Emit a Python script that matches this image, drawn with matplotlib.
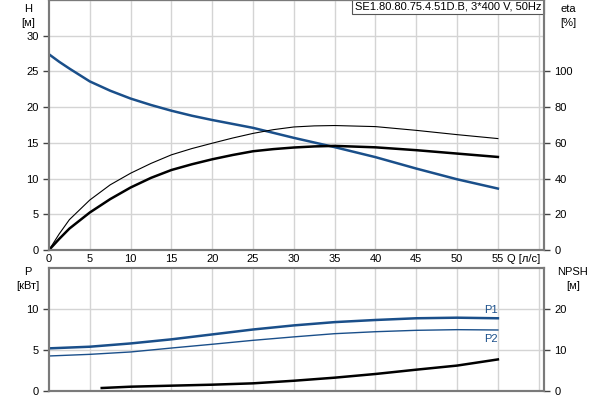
import numpy as np
import matplotlib
matplotlib.use("Agg")
import matplotlib.pyplot as plt

plt.rcParams["font.family"] = ["Liberation Sans", "DejaVu Sans"]
plt.rcParams["font.size"] = 8

# data
q = [0, 1.25, 2.5, 5, 7.5, 10, 12.5, 15, 17.5, 20, 22.5, 25, 27.5, 30, 32.5,
     35, 40, 45, 50, 55]
head = [27.4, 26.35, 25.4, 23.6, 22.3, 21.2, 20.3, 19.5, 18.8, 18.2, 17.65, 17.1,
        16.4, 15.7, 15.05, 14.4, 13.0, 11.4, 9.9, 8.6]
eta_thin = [0, 9, 17, 28, 36.5, 43, 48.5, 53.3, 56.8, 59.8, 62.7, 65.3, 67.4,
            68.9, 69.5, 69.7, 69.1, 67.0, 64.6, 62.4]
eta_thick = [0, 6.2, 12, 21, 28.5, 35, 40.4, 44.8, 48.0, 50.8, 53.2, 55.3, 56.5,
             57.4, 58.0, 58.3, 57.5, 55.9, 54.0, 52.1]

q_p = [0, 5, 10, 15, 20, 25, 30, 35, 40, 45, 50, 55]
p1 = [5.2, 5.4, 5.8, 6.3, 6.9, 7.5, 8.0, 8.4, 8.66, 8.87, 8.94, 8.87]
p2 = [4.27, 4.47, 4.76, 5.24, 5.7, 6.18, 6.6, 6.99, 7.23, 7.4, 7.48, 7.44]

q_npsh = [6.46, 10, 15, 20, 25, 30, 35, 40, 45, 50, 55]
npsh = [0.73, 1.05, 1.3, 1.54, 1.87, 2.5, 3.25, 4.15, 5.2, 6.2, 7.7]

blue = "#1a4f8a"
grid_c = "#d4d4d4"
spine_c = "#7a7a7a"

fig = plt.figure(figsize=(6, 4), dpi=100)
ax = fig.add_axes([49 / 600, 0.375, 495 / 600, 0.625])
ax2 = ax.twinx()
bx = fig.add_axes([49 / 600, 9 / 400, 495 / 600, 123 / 400])
bx2 = bx.twinx()

xmax = 60.65
for a in (ax, ax2, bx, bx2):
    a.set_xlim(0, xmax)
    for s in a.spines.values():
        s.set_color(spine_c)
        s.set_linewidth(1.5)
    a.tick_params(colors="black", length=4, width=1, color="#444444", labelsize=8)

ax.set_ylim(0, 35)
ax2.set_ylim(0, 140)
bx.set_ylim(0, 15)
bx2.set_ylim(0, 30)

ax.set_xticks(np.arange(0, 61, 5))
ax.set_xticklabels([str(v) for v in range(0, 56, 5)] + [""])
ax.set_yticks([0, 5, 10, 15, 20, 25, 30])
ax2.set_yticks([0, 20, 40, 60, 80, 100])
ax.tick_params(axis="x", length=0, pad=3)
for v in range(0, 36, 5):
    ax.axhline(v, color=grid_c, lw=1, zorder=0)
for v in range(5, 61, 5):
    ax.axvline(v, color=grid_c, lw=1, zorder=0)

bx.set_xticks(np.arange(0, 61, 5))
bx.tick_params(axis="x", length=0, labelbottom=False)
bx.set_yticks([0, 5, 10])
bx2.set_yticks([0, 10, 20])
for v in (0, 5, 10):
    bx.axhline(v, color=grid_c, lw=1, zorder=0)
for v in range(5, 61, 5):
    bx.axvline(v, color=grid_c, lw=1, zorder=0)

ax.plot(q, head, color=blue, lw=1.8, zorder=3, solid_joinstyle="round")
ax2.plot(q, eta_thin, color="black", lw=0.8, solid_joinstyle="round")
ax2.plot(q, eta_thick, color="black", lw=1.8, solid_joinstyle="round")

bx.plot(q_p, p1, color=blue, lw=1.8)
bx.plot(q_p, p2, color=blue, lw=1.0)
bx2.plot(q_npsh, npsh, color="black", lw=1.8)
bx.text(55, 9.25, "P1", color=blue, ha="right", va="bottom", fontsize=8)
bx.text(55, 7.0, "P2", color=blue, ha="right", va="top", fontsize=8)

fig.text(28 / 600, 1 - 12 / 400, "H", ha="center", fontsize=8)
fig.text(28 / 600, 1 - 26 / 400, "[м]", ha="center", fontsize=8)
fig.text(568 / 600, 1 - 12 / 400, "eta", ha="center", fontsize=8)
fig.text(568 / 600, 1 - 26 / 400, "[%]", ha="center", fontsize=8)
fig.text(28 / 600, 1 - 275 / 400, "P", ha="center", fontsize=8)
fig.text(28 / 600, 1 - 289 / 400, "[кВт]", ha="center", fontsize=8)
fig.text(573 / 600, 1 - 275 / 400, "NPSH", ha="center", fontsize=8)
fig.text(573 / 600, 1 - 289 / 400, "[м]", ha="center", fontsize=8)
fig.text(507 / 600, 1 - 262 / 400, "Q [л/с]", ha="left", fontsize=8)

ax.text(0.995, 0.995, "SE1.80.80.75.4.51D.B, 3*400 V, 50Hz", transform=ax.transAxes,
        ha="right", va="top", fontsize=8, zorder=5,
        bbox=dict(boxstyle="square,pad=0.25", fc="white", ec="#555555", lw=0.8))

plt.savefig("out.png", dpi=100)
